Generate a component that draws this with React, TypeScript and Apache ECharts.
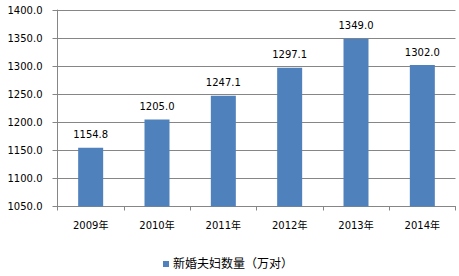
import React, { useEffect, useRef } from "react";
import * as echarts from "echarts";

const categories = ["2009年", "2010年", "2011年", "2012年", "2013年", "2014年"];
const values = [1154.8, 1205.0, 1247.1, 1297.1, 1349.0, 1302.0];
const seriesName = "新婚夫妇数量（万对）";

const FONT = "'DejaVu Sans', 'Noto Sans CJK SC', sans-serif";

export default function App() {
  const ref = useRef<HTMLDivElement>(null);
  useEffect(() => {
    if (!ref.current) return;
    const chart = echarts.init(ref.current, undefined, { renderer: "svg" });
    chart.setOption({
      animation: false,
      textStyle: { fontFamily: FONT },
      grid: { left: 57.5, right: 3.5, top: 10, bottom: 69.5, containLabel: false },
      legend: {
        data: [seriesName],
        left: 158,
        top: 253,
        icon: "rect",
        itemWidth: 6,
        itemHeight: 6,
        itemGap: 4,
        textStyle: { fontSize: 12, color: "#000", fontFamily: FONT, padding: [0, 0, 0, -1] },
      },
      xAxis: {
        type: "category",
        data: categories,
        axisLine: { lineStyle: { color: "#868686", width: 1 } },
        axisTick: { show: true, length: 4, lineStyle: { color: "#868686" } },
        axisLabel: { color: "#000", fontSize: 10, margin: 14, fontFamily: FONT },
      },
      yAxis: {
        type: "value",
        min: 1050,
        max: 1400,
        interval: 50,
        axisLine: { show: true, lineStyle: { color: "#868686", width: 1 } },
        axisTick: { show: true, length: 5, lineStyle: { color: "#868686" } },
        splitLine: { lineStyle: { color: "#868686", width: 1 } },
        axisLabel: {
          color: "#000",
          fontSize: 10,
          margin: 15,
          fontFamily: FONT,
          formatter: (v: number) => v.toFixed(1),
        },
      },
      series: [
        {
          name: seriesName,
          type: "bar",
          data: values,
          barWidth: 25,
          itemStyle: { color: "#4F81BD" },
          label: {
            show: true,
            position: "top",
            distance: 8,
            color: "#000",
            fontSize: 10,
            fontFamily: FONT,
            formatter: (p: any) => Number(p.value).toFixed(1),
          },
        },
      ],
    });
    return () => chart.dispose();
  }, []);
  return (
    <div
      ref={ref}
      style={{ position: "absolute", left: 0, top: 0, width: 459, height: 276 }}
    />
  );
}
